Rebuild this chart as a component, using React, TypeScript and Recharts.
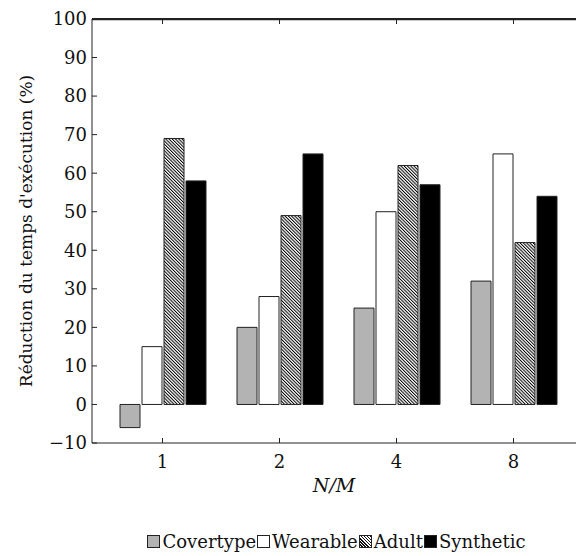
import { Bar, BarChart, CartesianGrid, Label, Legend, ReferenceLine, XAxis, YAxis } from "recharts";

const categories = ["1", "2", "4", "8"];
const covertype = [-6, 20, 25, 32];
const wearable = [15, 28, 50, 65];
const adult = [69, 49, 62, 42];
const synthetic = [58, 65, 57, 54];
const yTicks = [-10, 0, 10, 20, 30, 40, 50, 60, 70, 80, 90, 100];

const data = categories.map((n, i) => ({
  n,
  covertype: covertype[i],
  wearable: wearable[i],
  adult: adult[i],
  synthetic: synthetic[i],
}));

const FONT = "DejaVu Serif";
const INK = "#222";
const Y_MAX = 100;
const TOP_TICK = 1.3; // ~5px in data units

const legendItems = [
  { name: "Covertype", bg: "#b3b3b3" },
  { name: "Wearable", bg: "#fff" },
  {
    name: "Adult",
    bg: "repeating-linear-gradient(45deg, #fff 0px, #fff 1.2px, #111 1.2px, #111 2.2px)",
  },
  { name: "Synthetic", bg: "#000" },
];

function LegendRow() {
  return (
    <div
      style={{
        display: "flex",
        justifyContent: "center",
        alignItems: "center",
        fontFamily: FONT,
        fontSize: 18,
        color: "#111",
        height: 30,
        paddingLeft: 96,
      }}
    >
      {legendItems.map((it) => (
        <span key={it.name} style={{ display: "flex", alignItems: "center" }}>
          <span
            style={{
              display: "inline-block",
              width: 11,
              height: 11,
              border: `1px solid ${INK}`,
              background: it.bg,
              marginRight: 2,
              marginLeft: 1,
            }}
          />
          <span>{it.name}</span>
        </span>
      ))}
    </div>
  );
}

const fmtY = (v: number) => (v < 0 ? `\u2212${Math.abs(v)}` : `${v}`);

export default function App() {
  return (
    <div style={{ position: "absolute", left: 0, top: 0, width: 576, height: 556, background: "#fff" }}>
      <BarChart
        width={576}
        height={556}
        data={data}
        margin={{ top: 19, right: 0, left: 0, bottom: 0 }}
        barSize={20}
        barGap={2}
      >
        <defs>
          <pattern
            id="hatch"
            patternUnits="userSpaceOnUse"
            width={2.3}
            height={2.3}
            patternTransform="rotate(-45)"
          >
            <rect width={2.3} height={2.3} fill="#fff" />
            <line x1={0.5} y1={0} x2={0.5} y2={2.3} stroke="#000" strokeWidth={1} />
          </pattern>
        </defs>
        {/* top frame line */}
        <CartesianGrid
          vertical={false}
          stroke={INK}
          strokeWidth={1.5}
          horizontalCoordinatesGenerator={({ offset }: any) => [offset.top + 0.5]}
        />
        <XAxis
          dataKey="n"
          padding={{ left: 12, right: 4 }}
          height={83}
          tickSize={-5}
          tickMargin={17}
          stroke={INK}
          tick={{ fill: "#111", fontSize: 18, fontFamily: FONT }}
        >
          <Label
            value="N/M"
            position="insideBottom"
            offset={34}
            style={{ fontFamily: FONT, fontSize: 19, fontStyle: "italic", fill: "#111" }}
          />
        </XAxis>
        <YAxis
          width={92}
          domain={[-10, Y_MAX]}
          ticks={yTicks}
          interval={0}
          tickSize={-5}
          tickMargin={10}
          stroke={INK}
          tickFormatter={fmtY}
          tick={{ fill: "#111", fontSize: 18, fontFamily: FONT }}
        >
          <Label
            value="Réduction du temps d'exécution (%)"
            angle={-90}
            position="insideLeft"
            offset={26}
            style={{ textAnchor: "middle", fontFamily: FONT, fontSize: 17, fill: "#111" }}
          />
        </YAxis>
        <Legend verticalAlign="bottom" height={30} content={() => <LegendRow />} />
        <ReferenceLine y={Y_MAX} stroke={INK} strokeWidth={2} ifOverflow="visible" />
        {categories.map((c) => (
          <ReferenceLine
            key={c}
            segment={[
              { x: c, y: Y_MAX },
              { x: c, y: Y_MAX - TOP_TICK },
            ]}
            stroke={INK}
            ifOverflow="visible"
          />
        ))}
        <Bar dataKey="covertype" name="Covertype" fill="#b3b3b3" stroke={INK} strokeWidth={1} isAnimationActive={false} />
        <Bar dataKey="wearable" name="Wearable" fill="#fff" stroke={INK} strokeWidth={1} isAnimationActive={false} />
        <Bar dataKey="adult" name="Adult" fill="url(#hatch)" stroke={INK} strokeWidth={1} isAnimationActive={false} />
        <Bar dataKey="synthetic" name="Synthetic" fill="#000" stroke={INK} strokeWidth={1} isAnimationActive={false} />
      </BarChart>
    </div>
  );
}
